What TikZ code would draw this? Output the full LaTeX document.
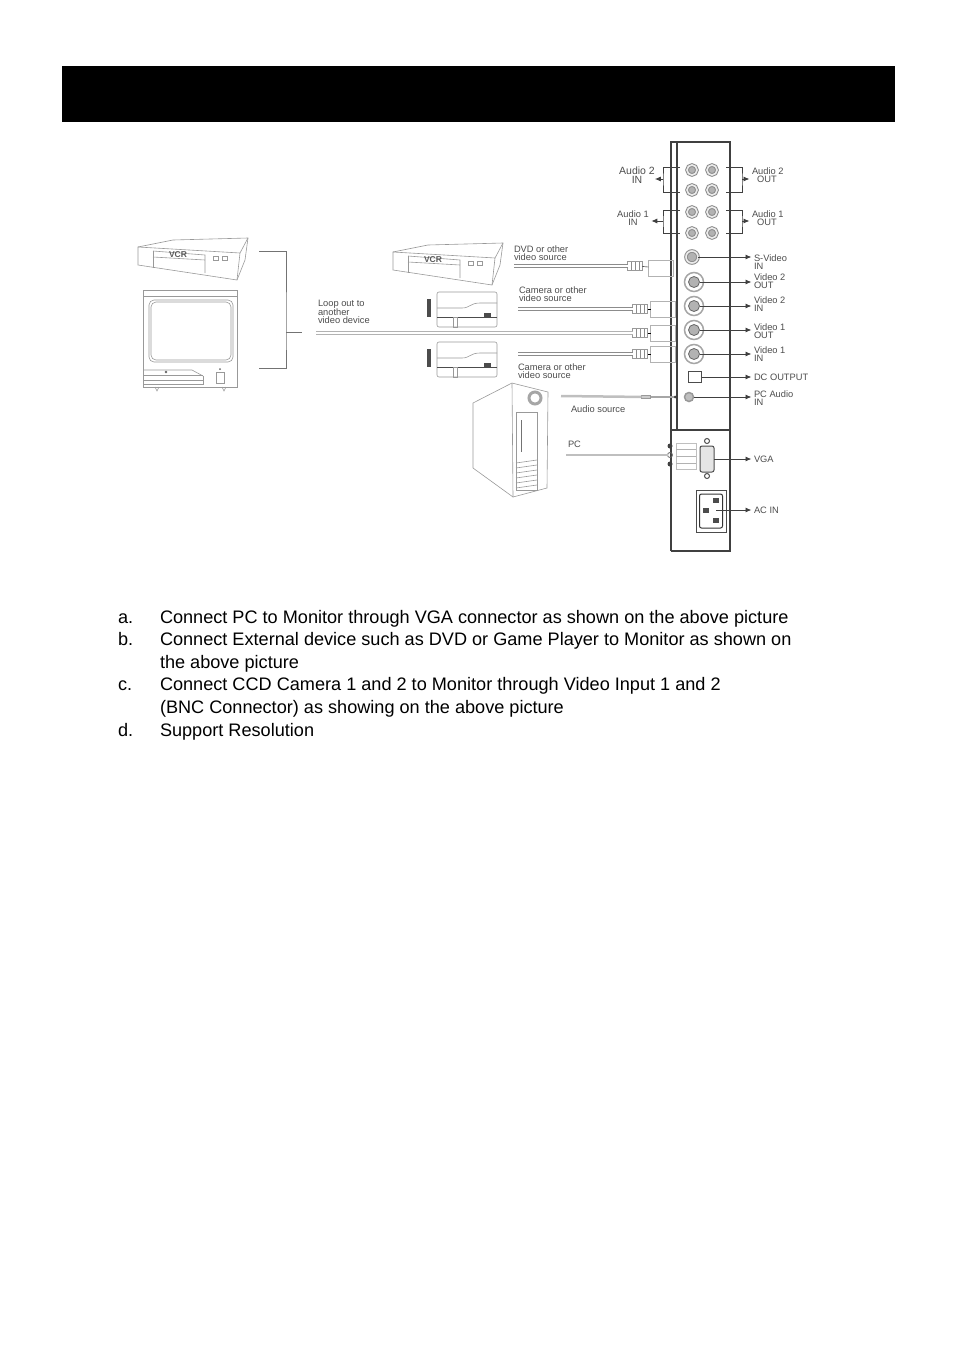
\documentclass[tikz,border=0pt]{standalone}
\usepackage{fontspec}
\setmainfont{Liberation Sans}
\usetikzlibrary{arrows.meta}
\usetikzlibrary{positioning}

\begin{document}
\begin{tikzpicture}[x=1pt,y=-1pt,
  every node/.style={inner sep=0pt,outer sep=0pt},
  item/.style={anchor=base west,font=\fontsize{18.12}{22}\selectfont},
  small/.style={anchor=west,align=left,text=black!70,font=\fontsize{9.3}{8}\selectfont},
  jack/.style={draw=black!60,circle,thick,fill=black!30,minimum size=11pt},
  ring/.style={draw=black!35,circle,line width=1.5pt,minimum size=19pt},
  rca/.style={circle,draw=black!45,line width=1pt,double=black!8,double distance=1.6pt,fill=black!30,minimum size=10pt},
  rib/.style={draw=black!40,minimum width=15pt,minimum height=9pt,
    path picture={\foreach \i in {-4,0,4}{\draw[black!45] ([xshift=\i pt]path picture bounding box.north) -- ([xshift=\i pt]path picture bounding box.south);}}},
  plug/.style={draw=black!30,minimum width=25pt,minimum height=16pt},
  cable/.style={draw=black!45,double=white,double distance=2.4pt,line width=.7pt},
  fine/.style={draw=black!40,line width=.6pt},
  panel/.style={draw=black!75,line width=1.3pt},
  wire/.style={draw=black!75,line width=.9pt},
  lead/.style={wire,-{Latex[length=6pt,width=5pt]},shorten >=2.5pt}]
  \useasboundingbox (0,0) rectangle (954,1352);
  \fill (62,66) rectangle (895,122);

  % rear panel
  \draw[panel] (671,551)--(671,142)--(730,142)--(730,551)--(671,551);
  \draw[panel] (677,142)--(677,430);
  \draw[panel] (671,430)--(731,430);

  % audio jacks
  \node[rca] (a21) at (692,170){};
  \node[rca] (a22) at (712,170){};
  \node[rca] (a23) at (692,190){};
  \node[rca] (a24) at (712,190){};
  \node[rca] (a11) at (692,212){};
  \node[rca] (a12) at (712,212){};
  \node[rca] (a13) at (692,233){};
  \node[rca] (a14) at (712,233){};

  % video jacks
  \node[rca,minimum size=12pt] (svideo) at (692,257){};
  \node[ring] (r2o) at (694,282){};
  \node[ring] (r2i) at (694,306){};
  \node[ring] (r1o) at (694,330){};
  \node[ring] (r1i) at (694,354){};
  \node[jack] (v2o) at (694,282){};
  \node[jack] (v2i) at (694,306){};
  \node[jack] (v1o) at (694,330){};
  \node[jack] (v1i) at (694,354){};
  \node[draw=black!70,thick,minimum width=13pt,minimum height=11pt] (dc) at (695,377){};
  \node[draw=black!40,circle,line width=1.5pt,fill=black!25,minimum size=9pt] (pcaudio) at (689,397){};

  % labels right
  \node[small] (a2out) at (752,175){Audio 2\\ \ \ OUT};
  \node[small] (a1out) at (752,218){Audio 1\\ \ \ OUT};
  \node[small] (svin) at (754,262){S-Video\\IN};
  \node[small] (v2out) at (754,281){Video 2\\OUT};
  \node[small] (v2in) at (754,304){Video 2\\IN};
  \node[small] (v1out) at (754,331){Video 1\\OUT};
  \node[small] (v1in) at (754,354){Video 1\\IN};
  \node[small] (dcout) at (754,377){DC OUTPUT};
  \node[small] (pcin) at (754,398){PC Audio\\IN};
  \node[small] (vga) at (754,459){VGA};
  \node[small] (acin) at (754,510){AC IN};

  % labels left
  \node[small,align=center,anchor=center,font=\fontsize{10.5}{9}\selectfont] (a2in) at (637,175){Audio 2\\IN};
  \node[small,align=center,anchor=center] (a1in) at (633,218){Audio 1\\IN};

  \draw[lead] (svideo)--(svin.west|-svideo);
  \draw[lead] (v2o)--(v2out.west|-v2o);
  \draw[lead] (v2i)--(v2in.west|-v2i);
  \draw[lead] (v1o)--(v1out.west|-v1o);
  \draw[lead] (v1i)--(v1in.west|-v1i);
  \draw[lead] (dc)--(dcout);
  \draw[lead] (pcaudio)--(pcin.west|-pcaudio);

  % brackets of the audio pairs
  \coordinate (b2l) at (663,179);
  \coordinate (b1l) at (663,221);
  \coordinate (b2r) at (742,179);
  \coordinate (b1r) at (742,221);
  \draw[wire] (680,167)-|(b2l)|-(680,192);
  \draw[wire] (680,210)-|(b1l)|-(680,233);
  \draw[wire] (726,167)-|(b2r)|-(726,192);
  \draw[wire] (726,210)-|(b1r)|-(726,233);
  \draw[lead,shorten >=0pt] (b2l)--(a2in.east|-b2l);
  \draw[lead] (b1l)--(a1in.east|-b1l);
  \draw[lead] (b2r)--(a2out.west|-b2r);
  \draw[lead] (b1r)--(a1out.west|-b1r);

  % video plugs and cables
  \node[rib] (ribA) at (635,266){};
  \node[rib] (ribB) at (640,309){};
  \node[rib] (ribC) at (640,333){};
  \node[rib] (ribD) at (640,354){};
  \node[plug] (plugA) at (661,268){};
  \node[plug] (plugB) at (663,309){};
  \node[plug] (plugC) at (663,333){};
  \node[plug] (plugD) at (663,354){};
  \draw (ribA)--(plugA);
  \draw (ribB)--(plugB);
  \draw (ribC)--(plugC);
  \draw (ribD)--(plugD);
  \coordinate (cabA) at (514,266);
  \coordinate (cabB) at (518,309);
  \coordinate (cabC) at (316,333);
  \coordinate (cabD) at (518,354);
  \draw[cable] (cabA)--(ribA);
  \draw[cable] (cabB)--(ribB);
  \draw[cable,draw=black!30] (cabC)--(ribC);
  \draw[cable] (cabD)--(ribD);
  \node[small] (dvd) at (514,253){DVD or other\\video source};
  \node[small] (camA) at (519,294){Camera or other\\video source};
  \node[small] (camB) at (518,371){Camera or other\\video source};
  \node[small] (loop) at (318,312){Loop out to\\another\\video device};

  % vcr, also the one in front of the monitor
  \foreach \dx/\dy in {0/0,255/5}{
    \begin{scope}[xshift=\dx pt,yshift=-\dy pt]
      \draw[fine] (138,247)--(173,240)--(248,238)--(245,260)--(237,280)--(138,265)--cycle;
      \draw[fine] (138,247)--(240,253)--(237,280);
      \draw[fine] (240,253)--(248,238);
      \draw[fine] (153,251)--(205,255)--(205,273);
      \draw[fine] (153,251)--(153,268);
      \draw[fine] (205,260)--(153,257);
      \draw[fine] (213,256)rectangle(218,260);
      \draw[fine] (222,256)rectangle(227,260);
      \node[font=\fontsize{8.5}{8}\selectfont\bfseries,text=black!65] at (178,255){VCR};
    \end{scope}
  }

  % monitor
  \draw[fine,line width=.8pt] (143,290) rectangle (237,387);
  \draw[fine] (143,296)--(237,296);
  \draw[fine,rounded corners=5pt] (149,300) rectangle (233,362);
  \draw[fine,rounded corners=5pt] (151,302) rectangle (231,360);
  \draw[fine] (143,370)--(192,370)--(203,376);
  \draw[fine] (143,375)--(203,375);
  \draw[fine] (143,380)--(203,380);
  \draw[fine] (143,384)--(203,384)--(203,376);
  \draw[fine] (216,372) rectangle (224,383);
  \fill[black!60] (166,372) circle (1.3);
  \fill[black!60] (220,369) circle (1);
  \draw[fine] (155,387)--(157,391)--(159,387);
  \draw[fine] (222,387)--(224,391)--(226,387);

  % bracket to the loop cable
  \coordinate (brT) at (259,251);
  \coordinate (brB) at (259,368);
  \coordinate (brM) at (302,332);
  \draw[fine,draw=black!55] (brT)-|(286,332)|-(brB);
  \draw[fine,draw=black!55] (286,332)--(brM);

  % cameras
  \foreach \dy in {0,50}{
    \begin{scope}[yshift=-\dy pt]
      \draw[fine,rounded corners=2pt] (437,292) rectangle (497,327);
      \fill[black!70] (427,299) rectangle (431,317);
      \draw[fine] (437,308)--(462,308)..controls (470,308) and (470,303) ..(480,303)--(497,303);
      \draw[black!70,line width=.9pt] (437,317)--(497,317);
      \draw[fine] (453,317) rectangle (457,327);
      \fill[black!70] (484,313) rectangle (491,317);
    \end{scope}
  }

  % pc tower
  \draw[fine] (473,403)--(512,383)--(548,392)--(547,488)--(513,497)--(473,468)--cycle;
  \draw[fine] (512,383)--(513,497);
  \node[draw=black!35,circle,line width=3pt,minimum size=12pt] (pcfan) at (535,398){};
  \draw[fine] (516,412) rectangle (537,490);
  \draw[black!55,line width=1pt] (521,420)--(521,452);
  \foreach \y in {463,468,473,478,483,488}{
    \draw[fine] (516,\y)--(537,\y-3);
  }

  % audio cable
  \coordinate (audA) at (561,396);
  \node[draw=black!40,fill=black!20,minimum width=9pt,minimum height=3pt] (audP) at (646,397){};
  \node[circle,fill=black!75,minimum size=3pt] (audD) at (675,397){};
  \draw[black!25,line width=2.5pt] (audA)--(audP);
  \draw[black!35,line width=1.5pt] (audP)--(audD);
  \node[small] (audL) at (571,409){Audio source};

  % vga
  \node[small] (pcL) at (568,444){PC};
  \coordinate (pcA) at (566,455);
  \node[circle,fill=black!75,minimum size=5pt] (scrA) at (670,446){};
  \node[circle,draw=black!60,thick,minimum size=5pt] (scrB) at (670,455){};
  \node[circle,fill=black!75,minimum size=5pt] (scrC) at (670,464){};
  \draw[black!25,line width=2.5pt] (pcA)--(scrB);
  \node[draw=black!25,minimum width=20pt,minimum height=26pt] (vgaP) at (686,456){};
  \draw[black!30] (676,449)--(696,449) (676,456)--(696,456) (676,463)--(696,463);
  \node[draw=black!70,line width=1pt,minimum width=14pt,minimum height=26pt,rounded corners=2pt,fill=black!10] (vgaS) at (707,459){};
  \node[draw=black!70,circle,line width=1pt,minimum size=5pt] (vgaT) at (707,441){};
  \node[draw=black!70,circle,line width=1pt,minimum size=5pt] (vgaB) at (707,476){};
  \draw[lead] (vgaS)--(vga);

  % ac socket
  \node[draw=black!70,line width=1pt,minimum width=30pt,minimum height=42pt] (acO) at (711,511){};
  \node[draw=black!80,line width=1pt,minimum width=23pt,minimum height=34pt,rounded corners=2pt] (acI) at (711,511){};
  \fill[black!70] (713,498) rectangle (719,503);
  \fill[black!70] (703,508) rectangle (709,513);
  \fill[black!70] (713,518) rectangle (719,523);
  \coordinate (acA) at (716,510);
  \draw[lead] (acA)--(acin);

  % text under the picture
  \node[item] (la) at (118,623){a.};
  \node[item] (ta) at (160,623){Connect PC to Monitor through VGA connector as shown on the above picture};
  \node[item] (lb) at (118,645){b.};
  \node[item] (tb) at (160,645){Connect External device such as DVD or Game Player to Monitor as shown on};
  \node[item] (tbb) at (160,668){the above picture};
  \node[item] (lc) at (118,690){c.};
  \node[item] (tc) at (160,690){Connect CCD Camera 1 and 2 to Monitor through Video Input 1 and 2};
  \node[item] (tcc) at (160,713){(BNC Connector) as showing on the above picture};
  \node[item] (ld) at (118,736){d.};
  \node[item] (td) at (160,736){Support Resolution};
\end{tikzpicture}
\end{document}
